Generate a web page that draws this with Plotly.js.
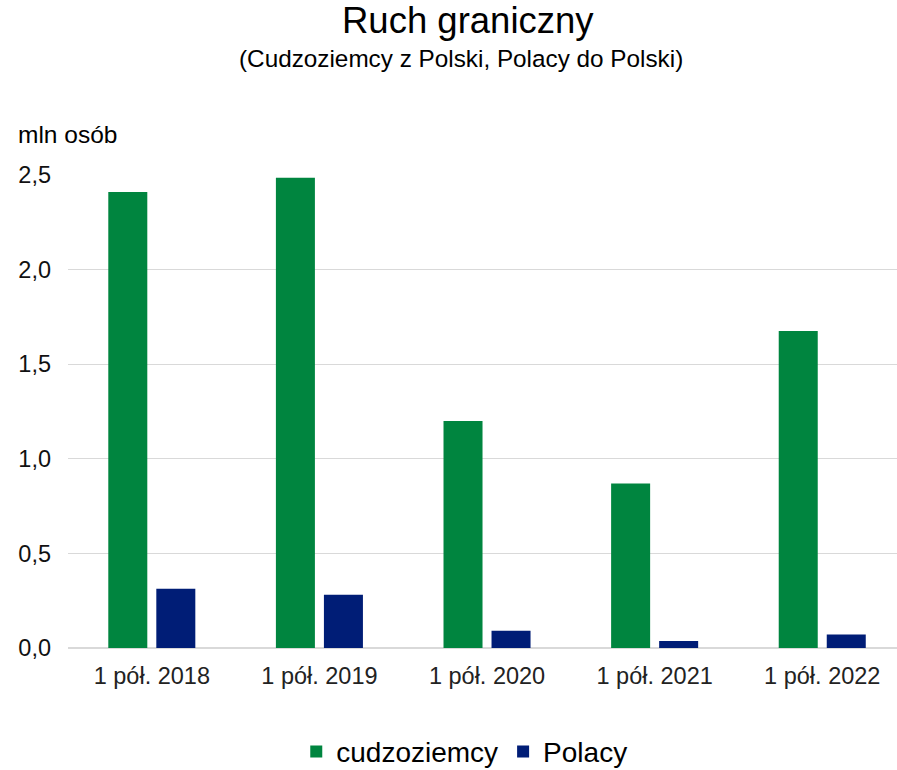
<!DOCTYPE html>
<html>
<head>
<meta charset="utf-8">
<script src="https://cdn.plot.ly/plotly-3.0.1.min.js"></script>
<style>html,body{margin:0;padding:0;background:#fff;}#chart{width:897px;height:770px;}</style>
</head>
<body>
<div id="chart"></div>
<script>
var categories = ["1 pół. 2018", "1 pół. 2019", "1 pół. 2020", "1 pół. 2021", "1 pół. 2022"];
var cudzoziemcy = [2.41, 2.485, 1.20, 0.87, 1.675];
var polacy = [0.313, 0.282, 0.091, 0.037, 0.071];
var yTicks = [0, 0.5, 1.0, 1.5, 2.0, 2.5];
var yTickLabels = ["0,0", "0,5", "1,0", "1,5", "2,0", "2,5"];

var FONT = "Liberation Sans, Arial, sans-serif";

var traces = [
  {type: "bar", name: "cudzoziemcy", x: categories, y: cudzoziemcy,
   marker: {color: "#00853F"}, hoverinfo: "y"},
  {type: "bar", name: "Polacy", x: categories, y: polacy,
   marker: {color: "#001D76"}, hoverinfo: "y"}
];

var layout = {
  width: 897, height: 770,
  margin: {l: 68, r: 0, t: 174, b: 122, autoexpand: false},
  paper_bgcolor: "#fff", plot_bgcolor: "#fff",
  font: {family: FONT, color: "#000"},
  barmode: "group",
  bargap: 0.427,
  bargroupgap: 0.1875,
  showlegend: true,
  legend: {orientation: "h", x: 0.478, xanchor: "center", y: -0.219, yanchor: "middle",
           font: {size: 28, family: FONT, color: "#000"}, itemwidth: 30, traceorder: "normal"},
  xaxis: {type: "category", range: [-0.5, 4.446], showgrid: false, showline: false,
          zeroline: false, ticks: "", tickfont: {size: 23.5, family: FONT, color: "#222"},
          ticklabelstandoff: 11, fixedrange: true},
  yaxis: {range: [0, 2.505], tickvals: yTicks, ticktext: yTickLabels, showgrid: true,
          gridcolor: "#d9d9d9", gridwidth: 1, zeroline: true, zerolinecolor: "#d9d9d9",
          zerolinewidth: 1.5, showline: false, ticks: "",
          tickfont: {size: 23.5, family: FONT, color: "#111"}, ticklabelstandoff: 16,
          fixedrange: true},
  annotations: [
    {text: "Ruch graniczny", xref: "paper", yref: "paper", x: 0.482, y: 1.323,
     xanchor: "center", yanchor: "middle", showarrow: false,
     font: {size: 36.5, family: FONT, color: "#000"}},
    {text: "(Cudzoziemcy z Polski, Polacy do Polski)", xref: "paper", yref: "paper",
     x: 0.474, y: 1.243, xanchor: "center", yanchor: "middle", showarrow: false,
     font: {size: 24.3, family: FONT, color: "#000"}},
    {text: "mln osób", xref: "paper", yref: "paper", x: -0.0627, y: 1.084,
     xanchor: "left", yanchor: "middle", showarrow: false,
     font: {size: 24.5, family: FONT, color: "#000"}}
  ]
};

Plotly.newPlot("chart", traces, layout, {displayModeBar: false, staticPlot: true});
</script>
</body>
</html>
